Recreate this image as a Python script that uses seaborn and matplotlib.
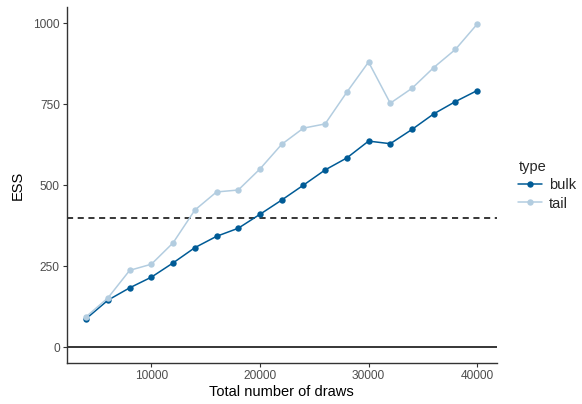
import matplotlib
matplotlib.use("Agg")
import matplotlib.pyplot as plt
import seaborn as sns
import pandas as pd

draws = [4000, 6000, 8000, 10000, 12000, 14000, 16000, 18000, 20000, 22000,
         24000, 26000, 28000, 30000, 32000, 34000, 36000, 38000, 40000]
ess_bulk = [88, 145, 183, 216, 260, 307, 342, 367, 410, 454,
            500, 547, 584, 636, 628, 672, 720, 758, 792]
ess_tail = [94, 152, 237, 256, 322, 423, 479, 485, 550, 626,
            676, 689, 787, 880, 753, 799, 863, 919, 997]
types = ["bulk", "tail"]
colors = ["#005b96", "#b3cde0"]
threshold = 400

df = pd.DataFrame({
    "draws": draws * 2,
    "ESS": ess_bulk + ess_tail,
    "type": [types[0]] * len(draws) + [types[1]] * len(draws),
})

sns.set_style("white")
plt.rcParams["font.family"] = ["Liberation Sans", "DejaVu Sans"]

fig = plt.figure(figsize=(5.82, 4.04), dpi=100)
ax = fig.add_axes([0.1146, 0.1007, 0.7388, 0.882])

ax.axhline(0, color="black", lw=1.1, zorder=1)
ax.axhline(threshold, color="black", lw=1.1, ls=(0, (4, 3)), zorder=1)

sns.lineplot(data=df, x="draws", y="ESS", hue="type", palette=colors,
             marker="o", markersize=4.6, markeredgewidth=0, lw=1.1, ax=ax, zorder=3)

ax.set_xlim(2200, 41800)
ax.set_ylim(-50, 1050)
ax.set_xticks([10000, 20000, 30000, 40000])
ax.set_yticks([0, 250, 500, 750, 1000])
ax.tick_params(axis="both", direction="out", length=3, width=0.8, color="#333333",
               labelsize=8.6, labelcolor="#4d4d4d", pad=2, left=True, bottom=True)
ax.set_xlabel("Total number of draws", fontsize=10.5, color="black", labelpad=2)
ax.set_ylabel("ESS", fontsize=10.5, color="black", labelpad=6)
for s in ["top", "right"]:
    ax.spines[s].set_visible(False)
for s in ["left", "bottom"]:
    ax.spines[s].set_color("#333333")
    ax.spines[s].set_linewidth(1.0)

leg = ax.legend(title="type", loc="center left", bbox_to_anchor=(1.02, 0.5),
                frameon=False, fontsize=10.5, title_fontsize=10.5,
                handlelength=1.6, handletextpad=0.5, labelspacing=0.3)
leg._legend_box.align = "left"

fig.savefig("out.png", dpi=100)
